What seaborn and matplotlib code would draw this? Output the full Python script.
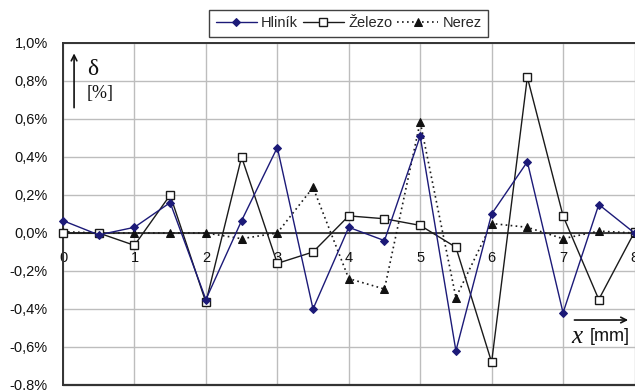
import numpy as np
import pandas as pd
import matplotlib
matplotlib.use("Agg")
import matplotlib.pyplot as plt
import seaborn as sns

# Measurement positions along the sample [mm]
x_mm = [0, 0.5, 1, 1.5, 2, 2.5, 3, 3.5, 4, 4.5, 5, 5.5, 6, 6.5, 7, 7.5, 8]

# Relative deviation delta [%] per material
hlinik = [0.065, -0.01, 0.03, 0.16, -0.35, 0.065, 0.45, -0.40, 0.03, -0.04,
          0.51, -0.62, 0.10, 0.375, -0.42, 0.15, 0.0]
zelezo = [0.0, 0.0, -0.065, 0.20, -0.365, 0.40, -0.16, -0.10, 0.09, 0.075,
          0.04, -0.075, -0.68, 0.82, 0.09, -0.35, 0.005]
nerez = [0.007, 0.0, 0.0, 0.0, 0.0, -0.03, 0.0, 0.24, -0.24, -0.295,
         0.585, -0.34, 0.05, 0.03, -0.03, 0.01, 0.0]

series_names = ["Hliník", "Železo", "Nerez"]

x_ticks = [0, 1, 2, 3, 4, 5, 6, 7, 8]
x_tick_labels = ["0", "1", "2", "3", "4", "5", "6", "7", "8"]
y_ticks = [-0.8, -0.6, -0.4, -0.2, 0.0, 0.2, 0.4, 0.6, 0.8, 1.0]
y_tick_labels = ["-0,8%", "-0,6%", "-0,4%", "-0,2%", "0,0%",
                 "0,2%", "0,4%", "0,6%", "0,8%", "1,0%"]

df = pd.DataFrame({
    "x": x_mm * 3,
    "delta": hlinik + zelezo + nerez,
    "material": np.repeat(series_names, len(x_mm)),
})

sns.set_style("white")
plt.rcParams["font.family"] = ["Liberation Sans", "DejaVu Sans"]

fig = plt.figure(figsize=(6.35, 3.9), dpi=100)
ax = fig.add_axes([63 / 635, 5 / 390, 571.5 / 635, 342 / 390])

styles = {
    "Hliník": dict(color="#1c1a78", marker="D", markersize=4.2,
                   markerfacecolor="#1c1a78", markeredgecolor="#1c1a78",
                   linestyle="-", linewidth=1.0),
    "Železo": dict(color="#1a1a1a", marker="s", markersize=5.8,
                   markerfacecolor="white", markeredgecolor="#1a1a1a",
                   markeredgewidth=1.0, linestyle="-", linewidth=1.0),
    "Nerez": dict(color="#1a1a1a", marker="^", markersize=5.8,
                  markerfacecolor="#111111", markeredgecolor="#111111",
                  linestyle=(0, (1, 2)), linewidth=1.2),
}

for name in ["Nerez", "Železo", "Hliník"]:
    sub = df[df["material"] == name]
    sns.lineplot(data=sub, x="x", y="delta", ax=ax, label=name,
                 clip_on=False, zorder=5 if name == "Hliník" else 4,
                 **styles[name])

ax.set_xlim(0, 8)
ax.set_ylim(-0.8, 1.0)
ax.set_xticks(x_ticks, x_tick_labels)
ax.set_yticks(y_ticks, y_tick_labels)
ax.set_xlabel("")
ax.set_ylabel("")

ax.grid(True, color="#bdbdbd", linewidth=1.0)
ax.set_axisbelow(True)

# frame: left/top dark, x axis line drawn through zero
for side in ["left", "top"]:
    ax.spines[side].set_visible(True)
    ax.spines[side].set_color("#333333")
    ax.spines[side].set_linewidth(1.4)
ax.spines["right"].set_visible(False)
ax.spines["bottom"].set_position(("data", 0))
ax.spines["bottom"].set_color("#111111")
ax.spines["bottom"].set_linewidth(1.1)
ax.spines["bottom"].set_zorder(3)
ax.axhline(-0.8, color="#333333", linewidth=1.6, clip_on=False)

ax.tick_params(axis="x", length=0, pad=13, labelsize=10.5, colors="#111111")
ax.tick_params(axis="y", length=0, pad=11, labelsize=10.5, colors="#111111")

# axis captions drawn inside the plot area
ax.annotate("", xy=(0.155, 0.96), xytext=(0.155, 0.645),
            arrowprops=dict(arrowstyle="->", color="#111111", lw=1.2,
                            mutation_scale=10))
ax.text(0.42, 0.86, "δ", family="Liberation Serif", fontsize=17,
        ha="center", va="center", color="#111111")
ax.text(0.52, 0.735, "[%]", family="Liberation Serif", fontsize=13,
        ha="center", va="center", color="#111111")

ax.annotate("", xy=(7.95, -0.458), xytext=(7.12, -0.458),
            arrowprops=dict(arrowstyle="->", color="#111111", lw=1.2,
                            mutation_scale=10), annotation_clip=False)
ax.text(7.2, -0.545, "x", family="Liberation Serif", style="italic",
        fontsize=18, ha="center", va="center", color="#111111")
ax.text(7.38, -0.545, "[mm]", fontsize=13, ha="left", va="center",
        color="#111111")

handles, labels = ax.get_legend_handles_labels()
order = [labels.index(n) for n in series_names]
leg = ax.legend([handles[i] for i in order], [labels[i] for i in order],
                loc="lower center", bbox_to_anchor=(0.5, 1.018), ncol=3,
                frameon=True, fancybox=False, edgecolor="#111111",
                fontsize=10.5, handlelength=2.8, handletextpad=0.3,
                columnspacing=0.35, borderpad=0.45, borderaxespad=0)
leg.get_frame().set_linewidth(1.0)

fig.savefig("out.png", dpi=100)
